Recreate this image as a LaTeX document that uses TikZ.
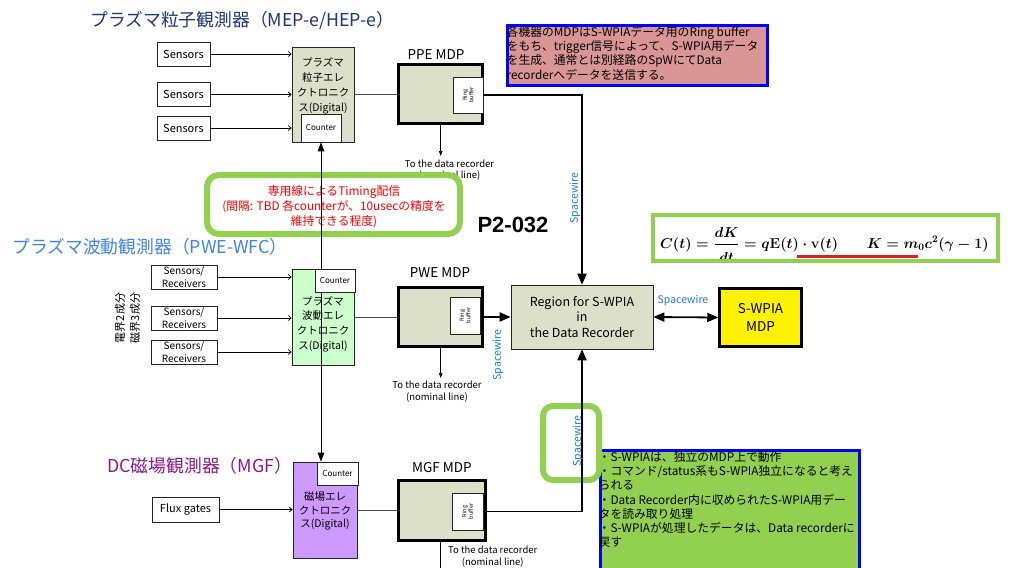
\documentclass[tikz,border=0pt]{standalone}
\usepackage{fontspec}
\setmainfont{Noto Sans CJK JP}
\newfontfamily\arialfont{Liberation Sans}
\usetikzlibrary{arrows.meta}

\newcommand\fs[2]{\fontsize{#1}{#2}\selectfont}
\newsavebox\energybox

\definecolor{boxfill}{RGB}{221,224,201}
\definecolor{pwefill}{RGB}{204,255,204}
\definecolor{mgffill}{RGB}{204,153,255}
\definecolor{notepink}{RGB}{217,150,148}
\definecolor{hlgreen}{RGB}{146,208,80}
\definecolor{noteblue}{RGB}{0,0,255}
\definecolor{swblue}{RGB}{30,125,210}
\definecolor{titlenavy}{RGB}{31,56,120}
\definecolor{titleblue}{RGB}{66,133,230}
\definecolor{titlepurple}{RGB}{140,24,140}
\definecolor{redtext}{RGB}{255,0,0}
\definecolor{ulred}{RGB}{225,30,40}

\tikzset{
  title/.style={font=\fs{17.8}{19}, inner sep=0pt},
  fbox/.style={draw=black!85, line width=0.6pt, inner sep=0pt},
  sensbox/.style={fbox, fill=white, font=\fs{11}{12}},
  recvbox/.style={fbox, fill=white, font=\fs{10}{12.5}, align=center,
    minimum width=66pt, minimum height=24pt},
  elecbox/.style={fbox, minimum width=62pt, minimum height=95pt},
  etext/.style={align=center, inner sep=0pt},
  cntbox/.style={fbox, fill=white, font=\fs{8}{9}},
  mdpbox/.style={draw=black, line width=3pt, fill=boxfill, inner sep=0pt,
    minimum width=84pt, minimum height=59pt},
  mdplabel/.style={font=\fs{13.5}{14}, inner sep=0pt},
  ringbox/.style={fbox, fill=white, minimum width=30pt, minimum height=36pt},
  ringtext/.style={rotate=90, font=\fs{5.5}{6.5}, align=center, inner sep=0pt},
  rectext/.style={font=\fs{9.5}{11.5}, align=center, inner sep=0pt},
  swlabel/.style={text=swblue, font=\fs{10.5}{11}, inner sep=0pt},
  notetext/.style={font=\fs{11.8}{14.3}, align=left, inner sep=0pt},
  sensarrow/.style={line width=0.7pt, -{Straight Barb[length=3pt,width=5pt]}},
  elecline/.style={line width=0.8pt, black!70},
  recarrow/.style={line width=0.7pt, -{Triangle[length=5pt,width=3.5pt]}},
  swline/.style={line width=1.8pt, -{Triangle[length=11pt,width=9pt]}},
  timing/.style={line width=1pt,
    {Triangle[length=9pt,width=6.5pt]}-{Triangle[length=9pt,width=6.5pt]}},
}

\begin{document}
% the energy equation, set once in bold math
\sbox\energybox{\fs{14.3}{16}\boldmath$\displaystyle C(t)=\frac{dK}{\rule{0pt}{17pt}dt}=q\mathbf{E}(t)\cdot\mathbf{v}(t)\qquad K=m_0c^2(\gamma-1)$}%
\begin{tikzpicture}[x=1pt,y=-1pt]
\useasboundingbox (0,0) rectangle (1029,568);
\fill[white] (0,0) rectangle (1029,568);

% ---------- titles ----------
\node[title, text=titlenavy, anchor=west] (t1) at (90,20) {プラズマ粒子観測器（MEP-e/HEP-e）};
\node[title, text=titleblue, anchor=west] (t2) at (12,247) {プラズマ波動観測器（PWE-WFC）};
\node[title, text=titlepurple, anchor=west] (t3) at (107,466) {DC磁場観測器（MGF）};

% ---------- particle instrument (PPE) ----------
\node[sensbox, minimum width=53pt, minimum height=24pt] (ppes1) at (183.5,54) {Sensors};
\node[sensbox, minimum width=53pt, minimum height=24pt] (ppes2) at (183.5,94.5) {Sensors};
\node[sensbox, minimum width=53pt, minimum height=24pt] (ppes3) at (183.5,128) {Sensors};
\node[elecbox, fill=boxfill] (ppe) at (323,94.5) {};
\node[cntbox, minimum width=40pt, minimum height=28pt] (ppecnt) at (321,128) {Counter};
\node[etext, font=\fs{10.5}{15}] (ppetxt) at (323,86) {プラズマ\\粒子エレ\\クトロニク\\ス(Digital)};
\node[mdpbox] (ppemdp) at (440.5,94) {};
\node[ringbox] (ppering) at (468,95) {};
\node[ringtext] (pperingtxt) at (ppering) {Ring\\buffer};
\node[mdplabel] (ppemdpl) at (436,55) {PPE MDP};

\foreach \s in {ppes1,ppes2,ppes3}
  \draw[sensarrow] (\s.east) -- (\s.east -| ppe.west);
\draw[elecline] (ppe.east |- ppemdp.west) -- (ppemdp.west);

\coordinate (ppeRec) at (440.7,156);
\draw[recarrow] (ppemdp.south -| ppeRec) -- (ppeRec);
\node[rectext] (ppereclbl) at (449.5,170) {To the data recorder\\(nominal line)};

% ---------- notes ----------
\node[draw=noteblue, line width=3pt, fill=notepink, anchor=north west,
  minimum width=260pt, minimum height=60pt, inner sep=0pt] (pinknote) at (505.5,23.5) {};
\node[notetext, anchor=north west] (pinktext) at (506.5,26)
  {各機器のMDPはS-WPIAデータ用のRing buffer\\
   をもち、trigger信号によって、S-WPIA用データ\\
   を生成、通常とは別経路のSpWにてData\\
   recorderへデータを送信する。};

% ---------- timing distribution ----------
\node[draw=hlgreen, line width=6pt, rounded corners=12pt, fill=white,
  minimum width=253pt, minimum height=59pt, inner sep=0pt] (timingbox) at (333.5,204.5) {};
\node[align=center, text=redtext, font=\fs{11.8}{15}, inner sep=0pt] (timingtxt) at (334,207)
  {専用線によるTiming配信\\(間隔: TBD 各counterが、10usecの精度を\\維持できる程度)};

\node[font=\arialfont\bfseries\fs{22}{24}, inner sep=0pt] (code) at (513,225) {P2-032};

% ---------- wave instrument (PWE) ----------
\node[recvbox] (pwes1) at (184,277) {Sensors/\\Receivers};
\node[recvbox] (pwes2) at (184,318) {Sensors/\\Receivers};
\node[recvbox] (pwes3) at (184,352) {Sensors/\\Receivers};
\node[rotate=90, font=\fs{11}{15}, align=center, inner sep=0pt] (dimtxt) at (127.5,318) {電界2成分\\磁界3成分};
\node[elecbox, fill=pwefill, minimum height=96pt] (pwe) at (323,317) {};
\node[mdpbox] (pwemdp) at (440.5,317) {};
\node[ringbox, minimum height=37pt] (pwering) at (465,315.5) {};
\node[ringtext] (pweringtxt) at (pwering) {Ring\\buffer};
\node[mdplabel] (pwemdpl) at (440,273) {PWE MDP};

\foreach \s in {pwes1,pwes2,pwes3}
  \draw[sensarrow] (\s.east) -- (\s.east -| pwe.west);
\draw[elecline] (pwe.east |- pwemdp.west) -- (pwemdp.west);

\coordinate (pweRec) at (440.7,378);
\draw[recarrow] (pwemdp.south -| pweRec) -- (pweRec);
\node[rectext] (pwereclbl) at (437,391.5) {To the data recorder\\(nominal line)};

% ---------- magnetometer (MGF) ----------
\node[sensbox, minimum width=67pt, minimum height=25pt] (flux) at (185.5,509.5) {Flux gates};
\node[elecbox, fill=mgffill, minimum width=64pt, minimum height=96pt] (mgf) at (325,510) {};
\node[cntbox, minimum width=41pt, minimum height=23pt] (mgfcnt) at (337.5,473.5) {Counter};
\node[etext, font=\fs{10.5}{13.5}] (mgftxt) at (325,511) {磁場エレ\\クトロニク\\ス(Digital)};
\node[mdpbox, minimum width=87pt, minimum height=60pt] (mgfmdp) at (442,510.5) {};
\node[ringbox, minimum width=31pt, minimum height=37pt] (mgfring) at (467.5,511.5) {};
\node[ringtext] (mgfringtxt) at (mgfring) {Ring\\buffer};
\node[mdplabel] (mgfmdpl) at (442,468) {MGF MDP};

\draw[sensarrow] (flux.east) -- (flux.east -| mgf.west);
\draw[elecline] (mgf.east |- mgfmdp.west) -- (mgfmdp.west);

\coordinate (mgfRec) at (440.5,574);
\draw[recarrow] (mgfmdp.south -| mgfRec) -- (mgfRec);
\node[rectext, anchor=north west] (mgfreclbl) at (448,546) {To the data recorder\\(nominal line)};

% ---------- timing line across the three instruments ----------
\draw[timing] (ppecnt.south) -- (ppecnt.south |- mgfcnt.north);
\node[cntbox, minimum width=40pt, minimum height=23pt] (pwecnt) at (335,280.5) {Counter};
\node[etext, font=\fs{10.5}{14.7}] (pwetxt) at (323,324) {プラズマ\\波動エレ\\クトロニク\\ス(Digital)};

% ---------- data recorder and S-WPIA ----------
\node[fbox, fill=boxfill, minimum width=142pt, minimum height=64pt, align=center,
  font=\fs{12.5}{15.5}] (region) at (582,317) {Region for S-WPIA\\in\\the Data Recorder};
\node[draw=black, line width=2.5pt, fill=yellow, minimum width=82pt, minimum height=58pt,
  inner sep=0pt, align=center, font=\fs{13.5}{18}] (swpia) at (760.5,317.5) {S-WPIA\\MDP};

\node[draw=noteblue, line width=3pt, fill=hlgreen, anchor=north west,
  minimum width=259pt, minimum height=135pt, inner sep=0pt] (greennote) at (598.5,448.5) {};
\node[notetext, anchor=north west] (greentext) at (598.5,451)
  {・S-WPIAは、独立のMDP上で動作\\
   ・コマンド/status系もS-WPIA独立になると考え\\
   られる\\
   ・Data Recorder内に収められたS-WPIA用デー\\
   タを読み取り処理\\
   ・S-WPIAが処理したデータは、Data recorderに\\
   戻す};

\node[draw=hlgreen, line width=6pt, rounded corners=10pt, minimum width=56pt,
  minimum height=74pt, inner sep=0pt] (swhl) at (571,443) {};

\draw[swline] (ppering.east) -| (region.north);
\draw[swline] (pwemdp.east) -- (region.west |- pwemdp.east);
\draw[swline] (mgfring.east) -| (region.south);
\draw[swline, {Triangle[length=11pt,width=9pt]}-{Triangle[length=11pt,width=9pt]}]
  (region.east) -- (swpia.west);

\node[swlabel, rotate=90] (sw1) at (575,198) {Spacewire};
\node[swlabel, rotate=90] (sw2) at (498,355) {Spacewire};
\node[swlabel] (sw3) at (683,301) {Spacewire};
\node[swlabel, rotate=90] (sw4) at (578,441) {Spacewire};

% ---------- equation ----------
\begin{scope}
  \clip (655,217) rectangle (996,259);
  \node[inner sep=0pt, anchor=base west] (energy) at (660,248) {\usebox\energybox};
\end{scope}
\draw[ulred, line width=2.5pt] (797,256.5) -- (918,256.5);
\node[draw=hlgreen, line width=4pt, minimum width=345pt, minimum height=46pt,
  inner sep=0pt] (eqframe) at (825.5,238) {};
\end{tikzpicture}
\end{document}
